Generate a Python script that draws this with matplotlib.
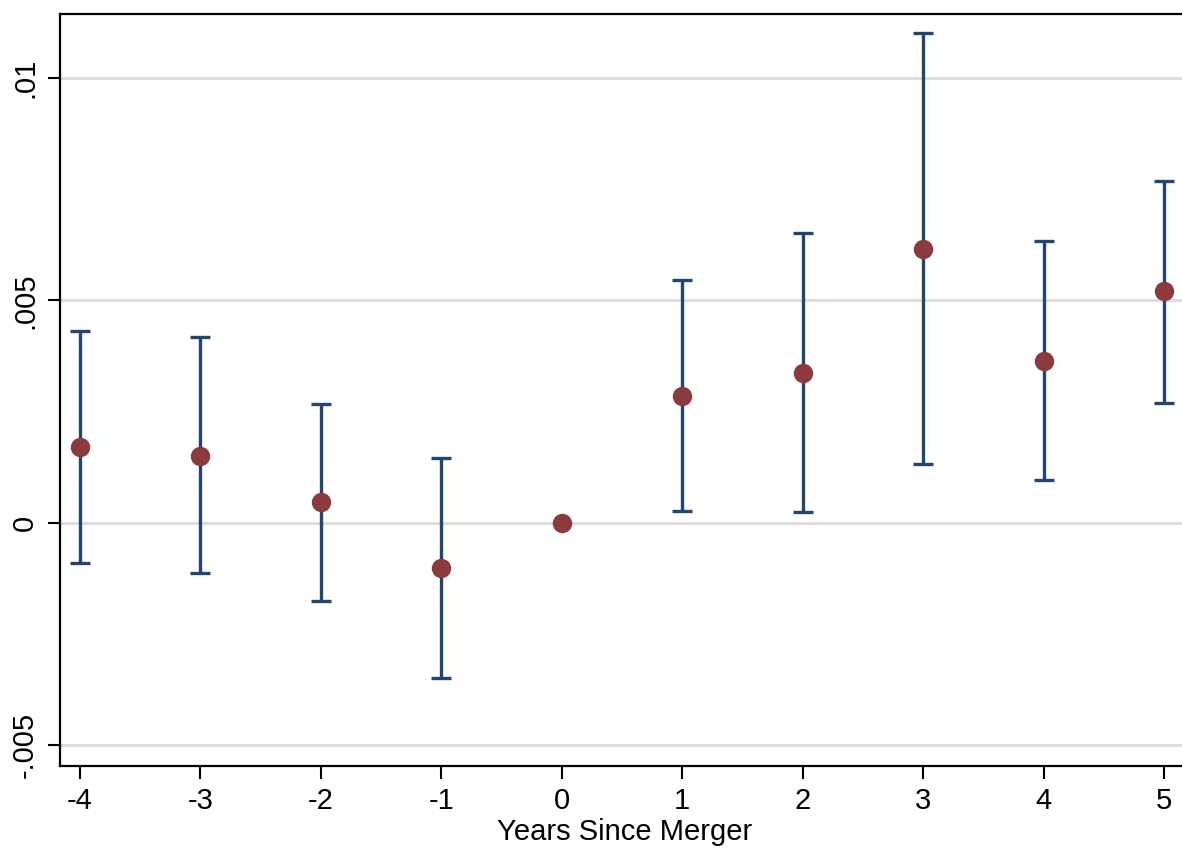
import matplotlib.pyplot as plt
import numpy as np

plt.rcParams['font.family'] = ['Liberation Sans', 'DejaVu Sans']

years = [-4, -3, -2, -1, 0, 1, 2, 3, 4, 5]
coef = [0.00171, 0.00151, 0.00047, -0.00101, 0.0, 0.00286, 0.00336, 0.00615, 0.00363, 0.00520]
ci_hi = [0.00432, 0.00417, 0.00268, 0.00146, 0.0, 0.00545, 0.00651, 0.01101, 0.00633, 0.00768]
ci_lo = [-0.00090, -0.00113, -0.00176, -0.00349, 0.0, 0.00027, 0.00025, 0.00131, 0.00095, 0.00270]

yticks = [-0.005, 0, 0.005, 0.01]
ytick_labels = ["-.005", "0", ".005", ".01"]

navy = "#22466f"
maroon = "#8b3a3e"

fig = plt.figure(figsize=(11.82, 8.52), dpi=100)
ax = fig.add_axes([60 / 1182, 86 / 852, 1130 / 1182, 752 / 852])

for x, lo, hi in zip(years, ci_lo, ci_hi):
    if x == 0:
        continue
    ax.errorbar([x], [(lo + hi) / 2], yerr=[[(hi - lo) / 2], [(hi - lo) / 2]],
                fmt='none', ecolor=navy, elinewidth=2.4, capsize=7, capthick=2.4, zorder=2)
ax.plot(years, coef, 'o', color=maroon, markersize=14, markeredgewidth=0, zorder=3)

ax.set_xlim(-4.166, 5.216)
ax.set_ylim(-0.00547, 0.01144)
ax.set_xticks(years)
ax.set_xticklabels([str(y) for y in years])
ax.set_yticks(yticks)
ax.set_yticklabels(ytick_labels, rotation=90, va='center')
ax.yaxis.grid(True, color="#dcdcdc", linewidth=2.2)
ax.set_axisbelow(True)
ax.tick_params(axis='both', direction='out', length=9, width=1.5, labelsize=21, pad=6)
for s in ['left', 'bottom', 'top']:
    ax.spines[s].set_linewidth(1.6)
ax.spines['right'].set_visible(False)
ax.set_xlabel("Years Since Merger", fontsize=21, labelpad=2)

fig.savefig("out.png", dpi=100)
